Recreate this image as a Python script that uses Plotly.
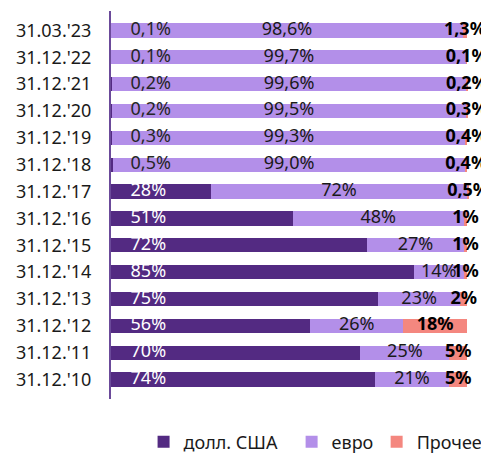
import plotly.graph_objects as go

categories = ["31.12.'10", "31.12.'11", "31.12.'12", "31.12.'13", "31.12.'14", "31.12.'15",
              "31.12.'16", "31.12.'17", "31.12.'18", "31.12.'19", "31.12.'20", "31.12.'21",
              "31.12.'22", "31.03.'23"]
usd = [74, 70, 56, 75, 85, 72, 51, 28, 0.5, 0.3, 0.2, 0.2, 0.1, 0.1]
eur = [21, 25, 26, 23, 14, 27, 48, 72, 99.0, 99.3, 99.5, 99.6, 99.7, 98.6]
other = [5, 5, 18, 2, 1, 1, 1, 0.5, 0.4, 0.4, 0.3, 0.2, 0.1, 1.3]
usd_lbl = ["74%", "70%", "56%", "75%", "85%", "72%", "51%", "28%", "0,5%", "0,3%", "0,2%", "0,2%", "0,1%", "0,1%"]
eur_lbl = ["21%", "25%", "26%", "23%", "14%", "27%", "48%", "72%", "99,0%", "99,3%", "99,5%", "99,6%", "99,7%", "98,6%"]
oth_lbl = ["5%", "5%", "18%", "2%", "1%", "1%", "1%", "0,5%", "0,4%", "0,4%", "0,3%", "0,2%", "0,1%", "1,3%"]
names = ["долл. США", "евро", "Прочее"]

C_USD = "#532a82"
C_EUR = "#b38fe9"
C_OTH = "#f4877f"
FONT = "Noto Sans"
FS = 18

fig = go.Figure()
for vals, name, col, lg in [(usd, names[0], C_USD, "legend"), (eur, names[1], C_EUR, "legend2"),
                            (other, names[2], C_OTH, "legend3")]:
    fig.add_trace(go.Bar(y=categories, x=vals, name=name, orientation="h", legend=lg,
                         marker=dict(color=col, line=dict(width=0))))

# labels
usd_colors = ["white" if v >= 1 else "#262626" for v in usd]
fig.add_trace(go.Scatter(y=categories, x=[5.5] * len(categories), mode="text", text=usd_lbl,
                         textposition="middle right", showlegend=False, cliponaxis=False,
                         textfont=dict(family=FONT, size=FS, color=usd_colors), hoverinfo="skip"))
eur_x = [u + e / 2 for u, e in zip(usd, eur)]
fig.add_trace(go.Scatter(y=categories, x=eur_x, mode="text", text=eur_lbl,
                         textposition="middle center", showlegend=False, cliponaxis=False,
                         textfont=dict(family=FONT, size=FS, color="#1a1a1a"), hoverinfo="skip"))
oth_x = [u + e + o / 2 for u, e, o in zip(usd, eur, other)]
fig.add_trace(go.Scatter(y=categories, x=oth_x, mode="text", text=[f"<b>{t}</b>" for t in oth_lbl],
                         textposition="middle center", showlegend=False, cliponaxis=False,
                         textfont=dict(family=FONT, size=FS, color="#000000"), hoverinfo="skip"))

leg_common = dict(orientation="h", xanchor="left", y=-0.111, yanchor="middle",
                  font=dict(family=FONT, size=FS, color="#1a1a1a"), itemwidth=30,
                  bgcolor="rgba(0,0,0,0)")

# page body has an 8px margin, so the figure is 8px smaller and offsets shifted
fig.update_layout(
    width=481, height=445,
    margin=dict(l=103, r=20, t=3, b=54, autoexpand=False),
    barmode="stack", bargap=0.47,
    plot_bgcolor="white", paper_bgcolor="white",
    font=dict(family=FONT, size=FS, color="#1a1a1a"),
    showlegend=True,
    legend=dict(x=0.091, **leg_common),
    legend2=dict(x=0.5045, **leg_common),
    legend3=dict(x=0.742, **leg_common),
    xaxis=dict(range=[0, 100.5], visible=False, fixedrange=True),
    yaxis=dict(type="category", showline=True, linecolor="#6b4a9a", linewidth=2,
               ticks="", showgrid=False, ticklabelstandoff=14, automargin=False,
               tickfont=dict(family=FONT, size=FS, color="#1a1a1a")),
)

fig.write_html("out.html")
